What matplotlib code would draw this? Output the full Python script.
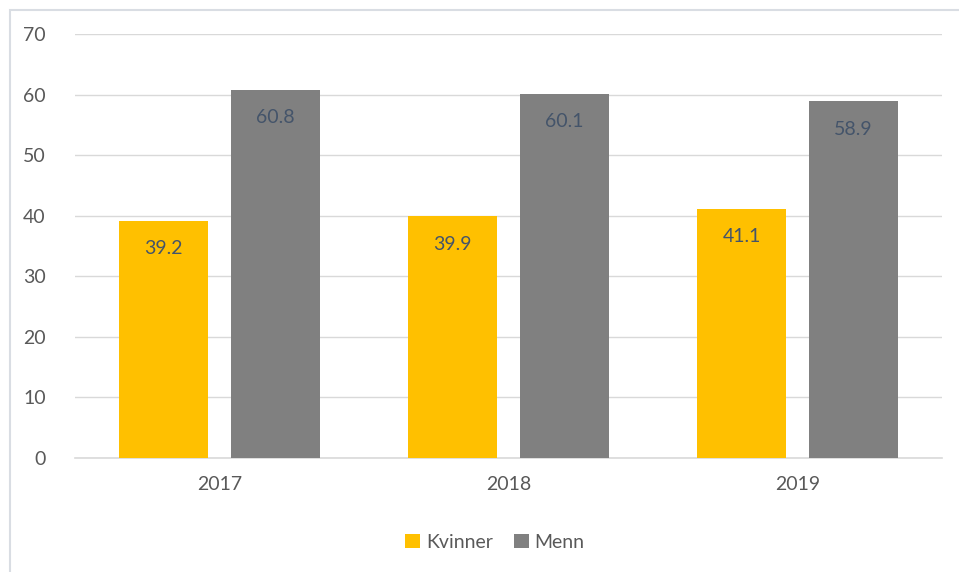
import matplotlib
matplotlib.use("Agg")
import matplotlib.pyplot as plt
from matplotlib.patches import Rectangle
import numpy as np

years = ["2017", "2018", "2019"]
kvinner = [39.2, 39.9, 41.1]
menn = [60.8, 60.1, 58.9]
series_names = ["Kvinner", "Menn"]
yticks = [0, 10, 20, 30, 40, 50, 60, 70]

plt.rcParams['font.family'] = ['Lato', 'DejaVu Sans']

W, H = 959, 572
fig = plt.figure(figsize=(W/100, H/100), dpi=100)
ax = fig.add_axes([75/W, 1-458/H, (942-75)/W, (458-34)/H])

# outer frame
fig.patches.append(Rectangle((10/W, -0.1), 1.2, 1-10/H+0.1, transform=fig.transFigure,
                             fill=False, edgecolor="#D9DDE3", linewidth=1.5))

x = np.arange(len(years))
bw = 0.307
off = 0.193
c1, c2 = "#FFC000", "#808080"
b1 = ax.bar(x - off, kvinner, bw, color=c1, label=series_names[0], zorder=3)
b2 = ax.bar(x + off, menn, bw, color=c2, label=series_names[1], zorder=3)

txt = "#44546A"
for xi, v in zip(x, kvinner):
    ax.text(xi - off, v - 4.6, f"{v:.1f}", ha="center", va="center", fontsize=14, color=txt, zorder=4)
for xi, v in zip(x, menn):
    ax.text(xi + off, v - 4.6, f"{v:.1f}", ha="center", va="center", fontsize=14, color=txt, zorder=4)

ax.set_xlim(-0.5, 2.5)
ax.set_ylim(0, 70)
ax.set_yticks(yticks)
ax.set_xticks(x)
ax.set_xticklabels(years)
ax.tick_params(axis="both", length=0, labelsize=14, labelcolor="#595959")
ax.tick_params(axis="y", pad=21)
ax.tick_params(axis="x", pad=13)
ax.grid(axis="y", color="#D9D9D9", linewidth=1, zorder=0)
for s in ["top", "right", "left"]:
    ax.spines[s].set_visible(False)
ax.spines["bottom"].set_color("#D9D9D9")
ax.spines["bottom"].set_linewidth(1.2)

leg = fig.legend(handles=[b1, b2], labels=series_names, loc="center",
                 bbox_to_anchor=(495/W, 1-542/H), ncol=2, frameon=False,
                 fontsize=14, handlelength=0.75, handleheight=0.75, handletextpad=0.3,
                 columnspacing=1.1)
for t in leg.get_texts():
    t.set_color("#595959")

fig.savefig("out.png", dpi=100)
